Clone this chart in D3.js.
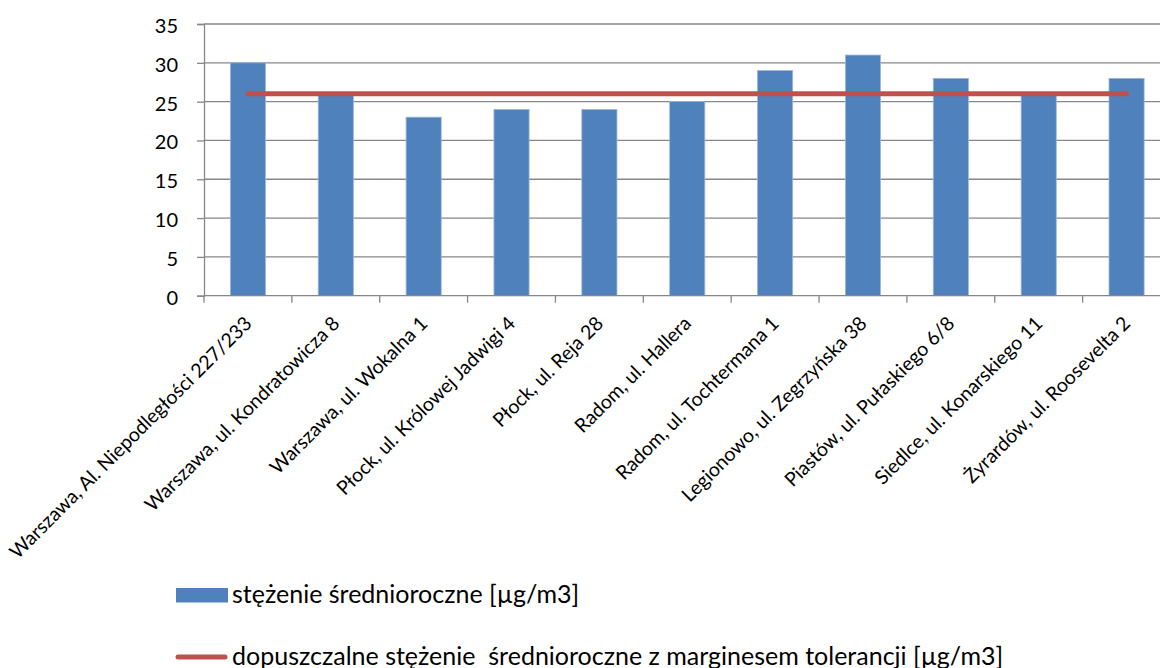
<!DOCTYPE html>
<html>
<head>
<meta charset="utf-8">
<script src="https://cdn.jsdelivr.net/npm/d3@7/dist/d3.min.js"></script>
<style>
  html, body { margin: 0; padding: 0; background: #fff; }
  svg { display: block; font-family: Lato, "Open Sans", sans-serif; }
</style>
</head>
<body>
<svg id="chart" width="1160" height="668"></svg>
<script>
// Measurement stations
const stations = [
  "Warszawa, Al. Niepodległości 227/233",
  "Warszawa, ul. Kondratowicza 8",
  "Warszawa, ul. Wokalna 1",
  "Płock, ul. Królowej Jadwigi 4",
  "Płock, ul. Reja 28",
  "Radom, ul. Hallera",
  "Radom, ul. Tochtermana 1",
  "Legionowo, ul. Zegrzyńska 38",
  "Piastów, ul. Pułaskiego 6/8",
  "Siedlce, ul. Konarskiego 11",
  "Żyrardów, ul. Roosevelta 2"
];
// Annual mean concentration [µg/m3]
const annualMean = [30, 26, 23, 24, 24, 25, 29, 31, 28, 26, 28];
// Limit value with margin of tolerance [µg/m3]
const limitWithMargin = [26, 26, 26, 26, 26, 26, 26, 26, 26, 26, 26];
const yTicks = [0, 5, 10, 15, 20, 25, 30, 35];
const legendLabels = [
  "stężenie średnioroczne [µg/m3]",
  "dopuszczalne stężenie  średnioroczne z marginesem tolerancji [µg/m3]"
];

const BAR = "#4F81BD", LINE = "#C0504D", GRID = "#878787";
const plot = { left: 204, right: 1170.5, top: 24, bottom: 295.7 };

const svg = d3.select("#chart");

const x = d3.scaleBand()
  .domain(stations)
  .range([plot.left, plot.right])
  .paddingInner(0.6)
  .paddingOuter(0.3);
const step = x.step();
const centre = s => x(s) + x.bandwidth() / 2;

const y = d3.scaleLinear().domain([0, 35]).range([plot.bottom, plot.top]);

// horizontal gridlines
svg.append("g")
  .selectAll("line")
  .data(yTicks.filter(d => d > 0))
  .join("line")
  .attr("x1", plot.left).attr("x2", plot.right)
  .attr("y1", d => y(d)).attr("y2", d => y(d))
  .attr("stroke", GRID).attr("stroke-width", 1.3);

// y axis
const yAxis = svg.append("g")
  .attr("transform", `translate(${plot.left},0)`)
  .call(d3.axisLeft(y).tickValues(yTicks).tickSize(7).tickPadding(19).tickFormat(d3.format("d")));
yAxis.select(".domain").attr("stroke", GRID).attr("stroke-width", 1.3);
yAxis.selectAll(".tick line").attr("stroke", GRID).attr("stroke-width", 1.3);
yAxis.selectAll(".tick text")
  .attr("fill", "#000").attr("font-size", 20)
  .attr("font-family", "Lato, 'Open Sans', sans-serif")
  .attr("dy", "0.42em");

// bars
svg.append("g")
  .selectAll("rect")
  .data(stations.map((s, i) => ({ s, v: annualMean[i] })))
  .join("rect")
  .attr("x", d => x(d.s))
  .attr("width", x.bandwidth())
  .attr("y", d => y(d.v))
  .attr("height", d => y(0) - y(d.v))
  .attr("fill", BAR)
  .attr("stroke", "#9DB8DB").attr("stroke-width", 0.8);

// x axis with ticks between categories
const xg = svg.append("g");
xg.append("line")
  .attr("x1", plot.left).attr("x2", plot.right)
  .attr("y1", y(0)).attr("y2", y(0))
  .attr("stroke", GRID).attr("stroke-width", 1.3);
xg.selectAll("line.tick")
  .data(d3.range(stations.length + 1))
  .join("line")
  .attr("class", "tick")
  .attr("x1", i => plot.left + i * step).attr("x2", i => plot.left + i * step)
  .attr("y1", y(0)).attr("y2", y(0) + 7)
  .attr("stroke", GRID).attr("stroke-width", 1.3);

// limit line
svg.append("path")
  .datum(stations.map((s, i) => [centre(s), y(limitWithMargin[i])]))
  .attr("d", d3.line())
  .attr("fill", "none")
  .attr("stroke", LINE)
  .attr("stroke-width", 5)
  .attr("stroke-linecap", "round");

// rotated category labels
svg.append("g")
  .selectAll("text")
  .data(stations)
  .join("text")
  .attr("transform", s => `translate(${centre(s) + 5},${y(0) + 29}) rotate(-45)`)
  .attr("text-anchor", "end")
  .attr("font-size", 19.5)
  .attr("fill", "#000")
  .text(s => s);

// legend
const lg = svg.append("g");
lg.append("rect")
  .attr("x", 176).attr("y", 588).attr("width", 52).attr("height", 14.5)
  .attr("fill", BAR);
lg.append("text")
  .attr("x", 232).attr("y", 603)
  .attr("font-size", 25).attr("fill", "#000")
  .text(legendLabels[0]);
lg.append("line")
  .attr("x1", 178).attr("x2", 225).attr("y1", 657).attr("y2", 657)
  .attr("stroke", LINE).attr("stroke-width", 5).attr("stroke-linecap", "round");
lg.append("text")
  .attr("x", 232).attr("y", 665)
  .attr("font-size", 25).attr("fill", "#000")
  .attr("xml:space", "preserve")
  .style("white-space", "pre")
  .text(legendLabels[1]);
</script>
</body>
</html>
